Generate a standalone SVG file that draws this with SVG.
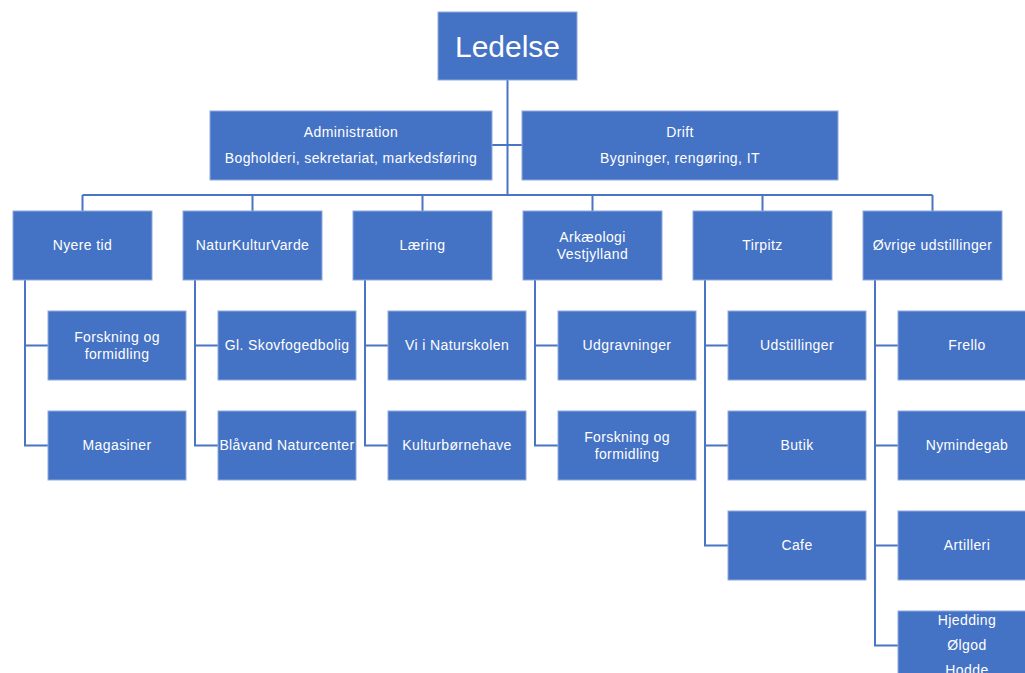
<svg xmlns="http://www.w3.org/2000/svg" width="1025" height="673" viewBox="0 0 1025 673">
<style>
.box{fill:#4472C4;stroke:#8FAADC;stroke-width:1}
.t{fill:#fff;font-family:"Liberation Sans",Arial,sans-serif;font-size:14px;letter-spacing:0.4px;text-anchor:middle}
.big{font-size:30px;letter-spacing:0}
.c{fill:none;stroke:#4A74C4;stroke-width:2}
</style>
<rect width="1025" height="673" fill="#fff"/>
<g id="connectors">
<path class="c" d="M507.5 80 V195 M492 145 H522 M82.5 195 H932.5 M82.5 195 V211 M252.5 195 V211 M422.5 195 V211 M592.5 195 V211 M762.5 195 V211 M932.5 195 V211"/>
<path class="c" d="M25 280 V445.5 H48 M25 345.5 H48"/>
<path class="c" d="M195 280 V445.5 H218 M195 345.5 H218"/>
<path class="c" d="M365 280 V445.5 H388 M365 345.5 H388"/>
<path class="c" d="M535 280 V445.5 H558 M535 345.5 H558"/>
<path class="c" d="M705 280 V545.5 H728 M705 345.5 H728 M705 445.5 H728"/>
<path class="c" d="M875 280 V645.5 H898 M875 345.5 H898 M875 445.5 H898 M875 545.5 H898"/>
</g>
<g id="ledelse"><rect class="box" x="438" y="12" width="139" height="68"/><text class="t big" x="507.5" y="57">Ledelse</text></g>
<g id="administration"><rect class="box" x="210" y="111" width="282" height="69"/><text class="t" x="351" y="137">Administration</text><text class="t" x="351" y="163">Bogholderi, sekretariat, markedsføring</text></g>
<g id="drift"><rect class="box" x="522" y="111" width="316" height="69"/><text class="t" x="680" y="137">Drift</text><text class="t" x="680" y="163">Bygninger, rengøring, IT</text></g>

<g id="nyere-tid"><rect class="box" x="13" y="211" width="139" height="69"/><text class="t" x="82.5" y="250">Nyere tid</text></g>
<g id="naturkulturvarde"><rect class="box" x="183" y="211" width="139" height="69"/><text class="t" x="252.5" y="250">NaturKulturVarde</text></g>
<g id="laering"><rect class="box" x="353" y="211" width="139" height="69"/><text class="t" x="422.5" y="250">Læring</text></g>
<g id="arkaeologi"><rect class="box" x="523" y="211" width="139" height="69"/><text class="t" x="592.5" y="242">Arkæologi</text><text class="t" x="592.5" y="259">Vestjylland</text></g>
<g id="tirpitz"><rect class="box" x="693" y="211" width="139" height="69"/><text class="t" x="762.5" y="250">Tirpitz</text></g>
<g id="ovrige"><rect class="box" x="863" y="211" width="139" height="69"/><text class="t" x="932.5" y="250">Øvrige udstillinger</text></g>

<g id="nt-forskning"><rect class="box" x="48" y="311" width="138" height="69"/><text class="t" x="117" y="342">Forskning og</text><text class="t" x="117" y="359">formidling</text></g>
<g id="nt-magasiner"><rect class="box" x="48" y="411" width="138" height="69"/><text class="t" x="117" y="450">Magasiner</text></g>
<g id="nkv-skovfoged"><rect class="box" x="218" y="311" width="138" height="69"/><text class="t" x="287" y="350">Gl. Skovfogedbolig</text></g>
<g id="nkv-blaavand"><rect class="box" x="218" y="411" width="138" height="69"/><text class="t" x="287" y="450">Blåvand Naturcenter</text></g>
<g id="l-naturskolen"><rect class="box" x="388" y="311" width="138" height="69"/><text class="t" x="457" y="350">Vi i Naturskolen</text></g>
<g id="l-kulturbornehave"><rect class="box" x="388" y="411" width="138" height="69"/><text class="t" x="457" y="450">Kulturbørnehave</text></g>
<g id="a-udgravninger"><rect class="box" x="558" y="311" width="138" height="69"/><text class="t" x="627" y="350">Udgravninger</text></g>
<g id="a-forskning"><rect class="box" x="558" y="411" width="138" height="69"/><text class="t" x="627" y="442">Forskning og</text><text class="t" x="627" y="459">formidling</text></g>
<g id="t-udstillinger"><rect class="box" x="728" y="311" width="138" height="69"/><text class="t" x="797" y="350">Udstillinger</text></g>
<g id="t-butik"><rect class="box" x="728" y="411" width="138" height="69"/><text class="t" x="797" y="450">Butik</text></g>
<g id="t-cafe"><rect class="box" x="728" y="511" width="138" height="69"/><text class="t" x="797" y="550">Cafe</text></g>
<g id="o-frello"><rect class="box" x="898" y="311" width="138" height="69"/><text class="t" x="967" y="350">Frello</text></g>
<g id="o-nymindegab"><rect class="box" x="898" y="411" width="138" height="69"/><text class="t" x="967" y="450">Nymindegab</text></g>
<g id="o-artilleri"><rect class="box" x="898" y="511" width="138" height="69"/><text class="t" x="967" y="550">Artilleri</text></g>
<g id="o-hjedding"><rect class="box" x="898" y="611" width="138" height="69"/><text class="t" x="967" y="625">Hjedding</text><text class="t" x="967" y="650">Ølgod</text><text class="t" x="967" y="675">Hodde</text></g>
</svg>
